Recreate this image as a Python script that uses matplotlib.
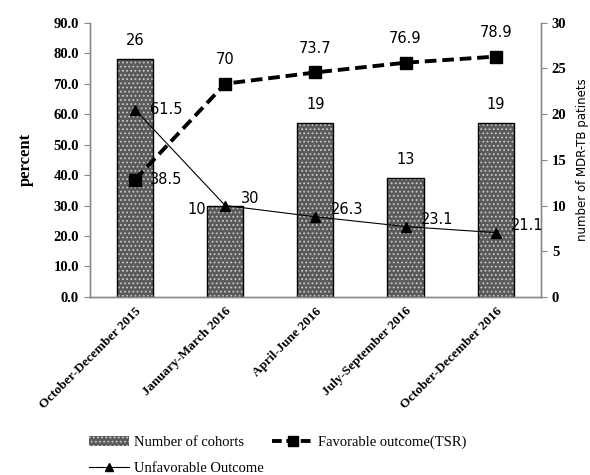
import matplotlib

matplotlib.use("Agg")

import matplotlib.pyplot as plt
from matplotlib.lines import Line2D
from matplotlib.patches import Patch

periods = [
    "October-December 2015",
    "January-March 2016",
    "April-June 2016",
    "July-September 2016",
    "October-December 2016",
]
cohorts = [26, 10, 19, 13, 19]
favorable = [38.5, 70, 73.7, 76.9, 78.9]
unfavorable = [61.5, 30, 26.3, 23.1, 21.1]
left_ticks = [0, 10, 20, 30, 40, 50, 60, 70, 80, 90]
right_ticks = [0, 5, 10, 15, 20, 25, 30]

SERIF = "Liberation Serif"
SANS = "DejaVu Sans"
BAR_FILL = "#5a5a5a"
BAR_DOTS = "#c8c8c8"
plt.rcParams["hatch.linewidth"] = 0.8

fig = plt.figure(figsize=(5.9, 4.75), dpi=100)
ax = fig.add_axes([0.1525, 0.375, 0.764, 0.577])
ax2 = ax.twinx()

x = list(range(len(periods)))

# bars live on the right axis, lines on the left axis
ax2.bar(x, cohorts, width=0.4, facecolor=BAR_FILL, edgecolor=BAR_DOTS,
        hatch="....", linewidth=0, zorder=1)
ax2.bar(x, cohorts, width=0.4, fill=False, edgecolor="black", linewidth=1.0, zorder=2)
for xi, v in zip(x, cohorts):
    if v == 10:
        ax2.annotate(str(v), (xi, v), xytext=(-14, -3), textcoords="offset points",
                     ha="right", va="center", fontsize=10.5, family=SANS)
    else:
        ax2.annotate(str(v), (xi, v), xytext=(0, 8), textcoords="offset points",
                     ha="center", va="bottom", fontsize=10.5, family=SANS)

ax.set_zorder(ax2.get_zorder() + 1)
ax.patch.set_visible(False)

ax.plot(x, favorable, color="black", linestyle=(0, (3, 1.5)), linewidth=2.8,
        marker="s", markersize=9)
ax.plot(x, unfavorable, color="black", linestyle="-", linewidth=0.8,
        marker="^", markersize=7)

for xi, v in zip(x, favorable):
    if xi == 0:
        ax.annotate(f"{v:g}", (xi, v), xytext=(11, 0), textcoords="offset points",
                    ha="left", va="center", fontsize=10.5, family=SANS)
    else:
        ax.annotate(f"{v:g}", (xi, v), xytext=(0, 12), textcoords="offset points",
                    ha="center", va="bottom", fontsize=10.5, family=SANS)
for xi, v in zip(x, unfavorable):
    dy = 0 if xi == 0 else 5
    ax.annotate(f"{v:g}", (xi, v), xytext=(11, dy), textcoords="offset points",
                ha="left", va="center", fontsize=10.5, family=SANS)

ax.set_xlim(-0.5, len(periods) - 0.5)
ax.set_ylim(0, 90)
ax2.set_ylim(0, 30)
ax.set_yticks(left_ticks)
ax.set_yticklabels([f"{t:.1f}" for t in left_ticks], family=SERIF,
                   fontweight="bold", fontsize=10.5)
ax2.set_yticks(right_ticks)
ax2.set_yticklabels([str(t) for t in right_ticks], family=SERIF,
                    fontweight="bold", fontsize=10.5)
ax.set_xticks(x)
ax.set_xticklabels(periods, rotation=45, ha="right", rotation_mode="anchor",
                   family=SERIF, fontweight="bold", fontsize=9.5)
ax.tick_params(axis="x", length=0, pad=6)
ax.tick_params(axis="y", length=4, color="#888888", pad=4)
ax2.tick_params(axis="y", length=4, color="#888888", pad=4)

for a in (ax, ax2):
    a.spines["top"].set_visible(False)
    for s in ("left", "right", "bottom"):
        a.spines[s].set_color("#888888")
        a.spines[s].set_linewidth(1.0)

ax.set_ylabel("percent", family=SERIF, fontweight="bold", fontsize=12, labelpad=14)
ax2.set_ylabel("number of MDR-TB patinets", family=SANS, fontsize=8.5, labelpad=7)

handles = [
    Patch(facecolor=BAR_FILL, edgecolor=BAR_DOTS, hatch="....", linewidth=0),
    Line2D([], [], color="black", linewidth=0.8, marker="^", markersize=6),
    Line2D([], [], color="black", linestyle=(0, (2.5, 1.2)), linewidth=2.8,
           marker="s", markersize=7),
]
labels = ["Number of cohorts", "Unfavorable Outcome", "Favorable outcome(TSR)"]
fig.legend(handles, labels, ncol=2, loc="lower left", bbox_to_anchor=(0.128, -0.028),
           frameon=False, prop={"family": SERIF, "size": 10.5}, handlelength=2.8,
           handleheight=0.6, columnspacing=0.6, handletextpad=0.3, labelspacing=0.9)

fig.savefig("out.png", dpi=100)
